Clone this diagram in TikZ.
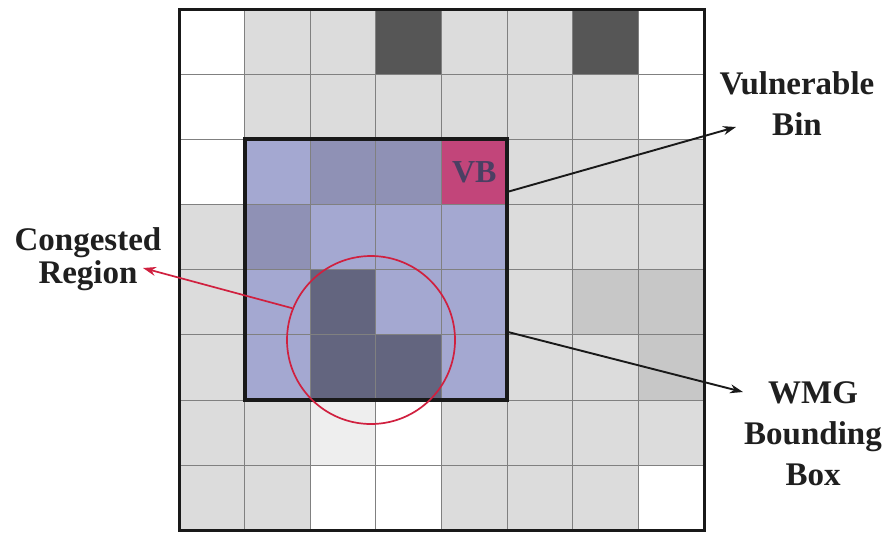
\documentclass[tikz,border=0pt]{standalone}
\usepackage{fontspec}
\setmainfont{Liberation Serif}
\usetikzlibrary{arrows.meta}
\definecolor{cW}{HTML}{FFFFFF}
\definecolor{cL}{HTML}{DCDCDC}
\definecolor{cD}{HTML}{565656}
\definecolor{cB}{HTML}{A4A8D1}
\definecolor{cG}{HTML}{8F91B5}
\definecolor{cV}{HTML}{C2457A}
\definecolor{cK}{HTML}{63657F}
\definecolor{cM}{HTML}{C7C7C7}
\definecolor{cS}{HTML}{EEEEEE}
\definecolor{gridgray}{HTML}{808080}
\definecolor{circred}{HTML}{D0203F}
\definecolor{vbtext}{HTML}{4B3F63}
\tikzset{
  gridline/.style={draw=gridgray, line width=0.9pt},
  labeltext/.style={font=\fontsize{33}{41}\selectfont\bfseries, align=center, inner sep=0pt, text=black!88},
  blackarrow/.style={draw=black!90, line width=1.9pt, -{Stealth[length=13pt,width=9pt]}},
  redarrow/.style={draw=circred, line width=1.7pt, -{Stealth[length=13pt,width=9pt]}}
}
\def\gx{179}\def\gy{9}\def\cw{65.625}\def\ch{65.1875}
\begin{document}
\begin{tikzpicture}[x=1pt,y=-1pt]
\useasboundingbox (0,0) rectangle (890,533);
\fill[white] (0,0) rectangle (890,533);
% cells
\foreach \row [count=\r from 0] in {
  {W,L,L,D,L,L,D,W},
  {W,L,L,L,L,L,L,W},
  {W,B,G,G,V,L,L,L},
  {L,G,B,B,B,L,L,L},
  {L,B,K,B,B,L,M,M},
  {L,B,K,K,B,L,L,M},
  {L,L,S,W,L,L,L,L},
  {L,L,W,W,L,L,L,W}} {
  \foreach \col [count=\c from 0] in \row {
    \fill[c\col] ({\gx+\cw*\c},{\gy+\ch*\r}) rectangle +(\cw,\ch);
  }
}
% grid lines
\foreach \i in {1,...,7} {
  \draw[gridline] ({\gx+\cw*\i},\gy) -- ({\gx+\cw*\i},{\gy+8*\ch});
  \draw[gridline] (\gx,{\gy+\ch*\i}) -- ({\gx+8*\cw},{\gy+\ch*\i});
}
% VB label
\node[inner sep=0pt, text=vbtext, font=\fontsize{32}{36}\selectfont\bfseries] (vb) at ({\gx+\cw*4.5},{\gy+\ch*2.5}) {VB};
% WMG bounding box
\draw[line width=3.8pt, black!90] ({\gx+\cw},{\gy+\ch*2}) rectangle ({\gx+\cw*5},{\gy+\ch*6});
% outer border
\draw[line width=3pt, black!90] (\gx,\gy) rectangle ({\gx+8*\cw},{\gy+8*\ch});
% congested circle
\node[draw=circred, line width=1.7pt, circle, minimum size=168pt, inner sep=0pt] (circ) at (371,340) {};
% labels
\node[labeltext] (vuln) at (797,104) {Vulnerable\\Bin};
\node[labeltext, font=\fontsize{33}{33}\selectfont\bfseries] (cong) at (88,259) {Congested\\Region};
\node[labeltext] (wmg) at (813,434) {WMG\\Bounding\\Box};
% arrow anchors
\coordinate (vbstart) at (507,192);
\coordinate (vbtip) at (736,127);
\coordinate (wmgstart) at (508,332);
\coordinate (wmgtip) at (743,392);
\coordinate (congtip) at (143,268);
% arrows
\draw[blackarrow] (vbstart) -- (vbtip);
\draw[blackarrow] (wmgstart) -- (wmgtip);
\draw[redarrow] (circ.158) -- (congtip);
\end{tikzpicture}
\end{document}
